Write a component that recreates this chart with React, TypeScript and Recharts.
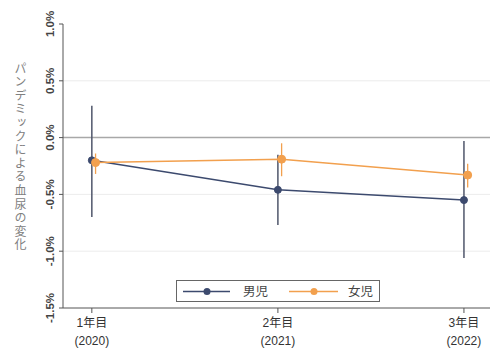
import React from 'react';
import { LineChart, Line, XAxis, YAxis, ErrorBar, ReferenceLine } from 'recharts';

// Year categories and their calendar labels
const years = ['1年目', '2年目', '3年目'];
const yearLabels = ['(2020)', '(2021)', '(2022)'];
const xPositions = [1, 2, 3];

// Change in hematuria (%) with 95% confidence limits
const boysMean = [-0.2, -0.46, -0.55];
const boysLow = [-0.7, -0.77, -1.06];
const boysHigh = [0.28, -0.15, -0.03];

const girlsMean = [-0.22, -0.19, -0.33];
const girlsLow = [-0.32, -0.34, -0.44];
const girlsHigh = [-0.14, -0.05, -0.23];

const yTicks = [-1.5, -1.0, -0.5, 0, 0.5, 1.0];
const gridValues = [0.5, -0.5, -1.0];

const BOYS = '#3c4a6e';
const GIRLS = '#f2a04e';

// girls are nudged slightly right so the two error bars do not overlap
const GIRLS_SHIFT = 0.02;

const boysData = xPositions.map((x, i) => ({
  x,
  v: boysMean[i],
  err: [boysMean[i] - boysLow[i], boysHigh[i] - boysMean[i]],
}));

const girlsData = xPositions.map((x, i) => ({
  x: x + GIRLS_SHIFT,
  v: girlsMean[i],
  err: [girlsMean[i] - girlsLow[i], girlsHigh[i] - girlsMean[i]],
}));

const FONT = '"Liberation Sans", Arial, "Noto Sans CJK JP", sans-serif';

const YTick = (props: any) => {
  const { x, y, payload } = props;
  return (
    <text
      x={x}
      y={y}
      transform={`rotate(-90 ${x} ${y})`}
      textAnchor="middle"
      fontSize={11.5}
      fontWeight={600}
      fill="#444"
      fontFamily={FONT}
    >
      {`${Number(payload.value).toFixed(1)}%`}
    </text>
  );
};

const XTick = (props: any) => {
  const { x, y, payload } = props;
  const i = xPositions.indexOf(Math.round(payload.value));
  return (
    <g>
      <text x={x} y={y + 12} textAnchor="middle" fontSize={12} fill="#333" fontFamily={FONT}>
        {years[i]}
      </text>
      <text x={x} y={y + 30} textAnchor="middle" fontSize={12} fill="#333" fontFamily={FONT}>
        {yearLabels[i]}
      </text>
    </g>
  );
};

const LegendBox = () => (
  <div
    style={{
      position: 'absolute',
      left: 176,
      top: 280,
      width: 204,
      height: 22,
      border: '1px solid #666',
      background: '#fff',
      boxSizing: 'border-box',
      fontFamily: FONT,
    }}
  >
    <svg width={204} height={22} style={{ position: 'absolute', left: 0, top: 0 }}>
      <line x1={6} x2={53} y1={10.5} y2={10.5} stroke={BOYS} strokeWidth={1.5} />
      <circle cx={30} cy={10.5} r={3.5} fill={BOYS} />
      <text x={66} y={15} fontSize={12.5} fill="#444">男児</text>
      <line x1={112} x2={161} y1={10.5} y2={10.5} stroke={GIRLS} strokeWidth={1.5} />
      <circle cx={137} cy={10.5} r={3.5} fill={GIRLS} />
      <text x={171} y={15} fontSize={12.5} fill="#444">女児</text>
    </svg>
  </div>
);

export default function App() {
  return (
    <div style={{ position: 'absolute', left: 0, top: 0, width: 490, height: 349, background: '#fff' }}>
      <LineChart
        width={490}
        height={349}
        margin={{ top: 24, right: 0, bottom: 0, left: 0 }}
      >
        {gridValues.map((g) => (
          <ReferenceLine key={g} y={g} stroke="#ececec" strokeWidth={1} />
        ))}
        <ReferenceLine y={0} stroke="#a8a8a8" strokeWidth={1.5} />
        <XAxis
          type="number"
          dataKey="x"
          domain={[0.845, 3.14]}
          ticks={xPositions}
          allowDataOverflow
          height={41}
          stroke="#555"
          tickSize={5}
          tick={<XTick />}
        />
        <YAxis
          type="number"
          domain={[-1.5, 1.0]}
          ticks={yTicks}
          allowDataOverflow
          width={63}
          stroke="#555"
          tickSize={4}
          tickMargin={5}
          tick={<YTick />}
        />
        <Line
          data={boysData}
          dataKey="v"
          stroke={BOYS}
          strokeWidth={1.5}
          dot={{ r: 3.5, fill: BOYS, stroke: BOYS, strokeWidth: 1 }}
          isAnimationActive={false}
        >
          <ErrorBar dataKey="err" direction="y" width={0} stroke="#4f566b" strokeWidth={1.5} />
        </Line>
        <Line
          data={girlsData}
          dataKey="v"
          stroke={GIRLS}
          strokeWidth={1.5}
          dot={{ r: 4, fill: GIRLS, stroke: GIRLS, strokeWidth: 1 }}
          isAnimationActive={false}
        >
          <ErrorBar dataKey="err" direction="y" width={0} stroke={GIRLS} strokeWidth={1.3} />
        </Line>
      </LineChart>
      <div
        style={{
          position: 'absolute',
          left: 13,
          top: 62,
          writingMode: 'vertical-rl',
          fontSize: 12,
          letterSpacing: 1.6,
          color: '#808080',
          fontFamily: '"Noto Sans CJK JP", sans-serif',
          lineHeight: '14px',
        }}
      >
        パンデミックによる血尿の変化
      </div>
      <LegendBox />
    </div>
  );
}
